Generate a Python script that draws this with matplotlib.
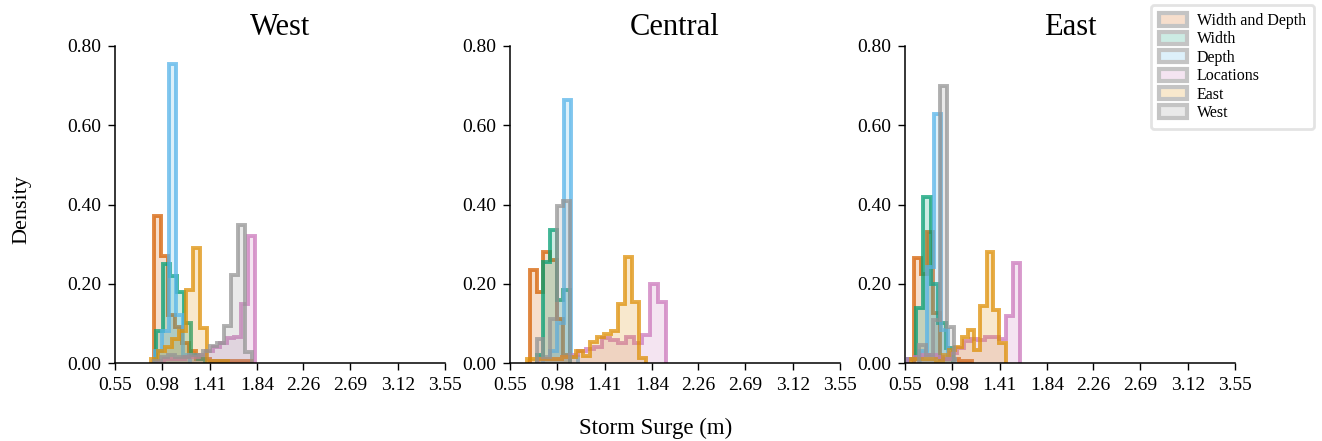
import numpy as np
import matplotlib
matplotlib.use("Agg")
import matplotlib.pyplot as plt
from matplotlib.patches import Patch

plt.rcParams['font.family'] = ['Liberation Serif', 'DejaVu Serif']

SERIES = ["Width and Depth", "Width", "Depth", "Locations", "East", "West"]
COLORS = ["#d55e00", "#029e73", "#56b4e9", "#cc78bc", "#de8f05", "#949494"]
PANELS = ["West", "Central", "East"]
X_TICKS = [0.55, 0.98, 1.41, 1.84, 2.26, 2.69, 3.12, 3.55]
Y_TICKS = [0.0, 0.2, 0.4, 0.6, 0.8]

# each series: (first bin edge, bin width) and per-bin probabilities
# ---- West panel
WEST_WIDTH_DEPTH_BIN = (0.9045, 0.0636)
WEST_WIDTH_DEPTH = [0.37, 0.27, 0.12, 0.09, 0.05, 0.03, 0.01, 0.01, 0.005, 0.005, 0.005, 0.005, 0.005, 0.005]
WEST_WIDTH_BIN = (0.927, 0.0636)
WEST_WIDTH = [0.08, 0.25, 0.22, 0.18, 0.10, 0.02, 0.01]
WEST_DEPTH_BIN = (0.918, 0.0636)
WEST_DEPTH = [0.03, 0.08, 0.755, 0.12, 0.02]
WEST_LOCATIONS_BIN = (0.932, 0.0636)
WEST_LOCATIONS = [0.005, 0.01, 0.01, 0.01, 0.015, 0.015, 0.02, 0.03, 0.04, 0.05, 0.062, 0.066, 0.15, 0.32]
WEST_EAST_BIN = (0.877, 0.0636)
WEST_EAST = [0.01, 0.03, 0.04, 0.06, 0.08, 0.184, 0.29, 0.088, 0.005, 0.005, 0.005]
WEST_WEST_BIN = (0.9045, 0.0636)
WEST_WEST = [0.005, 0.015, 0.02, 0.015, 0.015, 0.02, 0.02, 0.03, 0.044, 0.05, 0.093, 0.222, 0.348, 0.029]

# ---- Central panel
CENTRAL_WIDTH_DEPTH_BIN = (0.732, 0.0606)
CENTRAL_WIDTH_DEPTH = [0.235, 0.18, 0.28, 0.26, 0.11, 0.02]
CENTRAL_WIDTH_BIN = (0.793, 0.0606)
CENTRAL_WIDTH = [0.02, 0.256, 0.336, 0.159, 0.184]
CENTRAL_DEPTH_BIN = (0.8545, 0.0636)
CENTRAL_DEPTH = [0.01, 0.03, 0.10, 0.664, 0.016]
CENTRAL_LOCATIONS_BIN = (0.8045, 0.0727)
CENTRAL_LOCATIONS = [0.01, 0.01, 0.01, 0.015, 0.02, 0.03, 0.035, 0.041, 0.062, 0.059, 0.05, 0.065, 0.05, 0.07, 0.199, 0.155]
CENTRAL_EAST_BIN = (0.7045, 0.0636)
CENTRAL_EAST = [0.01, 0.01, 0.01, 0.01, 0.01, 0.015, 0.015, 0.03, 0.018, 0.054, 0.066, 0.073, 0.082, 0.15, 0.268, 0.155, 0.012]
CENTRAL_WEST_BIN = (0.793, 0.0606)
CENTRAL_WEST = [0.06, 0.015, 0.11, 0.395, 0.41]

# ---- East panel
EAST_WIDTH_DEPTH_BIN = (0.632, 0.059)
EAST_WIDTH_DEPTH = [0.264, 0.225, 0.33, 0.125, 0.01, 0.01, 0.01, 0.005, 0.005]
EAST_WIDTH_BIN = (0.58, 0.068)
EAST_WIDTH = [0.01, 0.138, 0.42, 0.2, 0.1, 0.038]
EAST_DEPTH_BIN = (0.686, 0.0636)
EAST_DEPTH = [0.03, 0.243, 0.628, 0.083, 0.01]
EAST_LOCATIONS_BIN = (0.577, 0.0636)
EAST_LOCATIONS = [0.01, 0.015, 0.02, 0.02, 0.015, 0.01, 0.025, 0.038, 0.055, 0.06, 0.058, 0.066, 0.066, 0.06, 0.119, 0.253]
EAST_EAST_BIN = (0.6055, 0.0573)
EAST_EAST = [0.01, 0.01, 0.01, 0.01, 0.005, 0.02, 0.033, 0.041, 0.066, 0.083, 0.033, 0.144, 0.281, 0.134, 0.05]
EAST_WEST_BIN = (0.677, 0.0636)
EAST_WEST = [0.045, 0.02, 0.109, 0.70, 0.092]

PANEL_DATA = {
    "West": [(WEST_WIDTH_DEPTH_BIN, WEST_WIDTH_DEPTH), (WEST_WIDTH_BIN, WEST_WIDTH),
             (WEST_DEPTH_BIN, WEST_DEPTH), (WEST_LOCATIONS_BIN, WEST_LOCATIONS),
             (WEST_EAST_BIN, WEST_EAST), (WEST_WEST_BIN, WEST_WEST)],
    "Central": [(CENTRAL_WIDTH_DEPTH_BIN, CENTRAL_WIDTH_DEPTH), (CENTRAL_WIDTH_BIN, CENTRAL_WIDTH),
                (CENTRAL_DEPTH_BIN, CENTRAL_DEPTH), (CENTRAL_LOCATIONS_BIN, CENTRAL_LOCATIONS),
                (CENTRAL_EAST_BIN, CENTRAL_EAST), (CENTRAL_WEST_BIN, CENTRAL_WEST)],
    "East": [(EAST_WIDTH_DEPTH_BIN, EAST_WIDTH_DEPTH), (EAST_WIDTH_BIN, EAST_WIDTH),
             (EAST_DEPTH_BIN, EAST_DEPTH), (EAST_LOCATIONS_BIN, EAST_LOCATIONS),
             (EAST_EAST_BIN, EAST_EAST), (EAST_WEST_BIN, EAST_WEST)],
}

W, H = 1322, 441
fig = plt.figure(figsize=(W / 100, H / 100), dpi=100)

lefts = [115, 510, 905]
for panel, left in zip(PANELS, lefts):
    ax = fig.add_axes([left / W, 78 / H, 330 / W, 317 / H])
    for (bin_info, probs), color in zip(PANEL_DATA[panel], COLORS):
        start, width = bin_info
        probs = np.asarray(probs)
        edges = start + width * np.arange(len(probs) + 1)
        ax.stairs(probs, edges, baseline=0, fill=True, color=color, alpha=0.2, lw=0)
        ax.stairs(probs, edges, baseline=0, fill=False, color=color, alpha=0.75, lw=2.8)
    ax.set_xlim(X_TICKS[0], X_TICKS[-1])
    ax.set_ylim(Y_TICKS[0], Y_TICKS[-1])
    ax.set_xticks(X_TICKS)
    ax.set_xticklabels([f"{t:.2f}" for t in X_TICKS])
    ax.set_yticks(Y_TICKS)
    ax.set_yticklabels([f"{t:.2f}" for t in Y_TICKS])
    ax.tick_params(labelsize=14, width=1.0, length=5, pad=5)
    for s in ["top", "right"]:
        ax.spines[s].set_visible(False)
    for s in ["left", "bottom"]:
        ax.spines[s].set_linewidth(1.1)
    ax.set_title(panel, fontsize=22, pad=8)

fig.text(656 / W, 1 - 428 / H, "Storm Surge (m)", ha="center", va="center", fontsize=16.5)
fig.text(22 / W, 1 - 210 / H, "Density", ha="center", va="center", rotation=90, fontsize=16)

handles = [Patch(facecolor=matplotlib.colors.to_rgba(c, 0.2), edgecolor="#c4c4c4", linewidth=3)
           for c in COLORS]
leg = fig.legend(handles, SERIES, loc="upper right", bbox_to_anchor=(1314 / W, 1 - 5 / H),
                 fontsize=11.5, frameon=True, fancybox=True, labelspacing=0.15,
                 handlelength=1.75, handleheight=0.8, borderpad=0.5, handletextpad=0.65,
                 borderaxespad=0)
leg.get_frame().set_edgecolor("#dcdcdc")
leg.get_frame().set_linewidth(2)

fig.savefig("out.png", dpi=100)
